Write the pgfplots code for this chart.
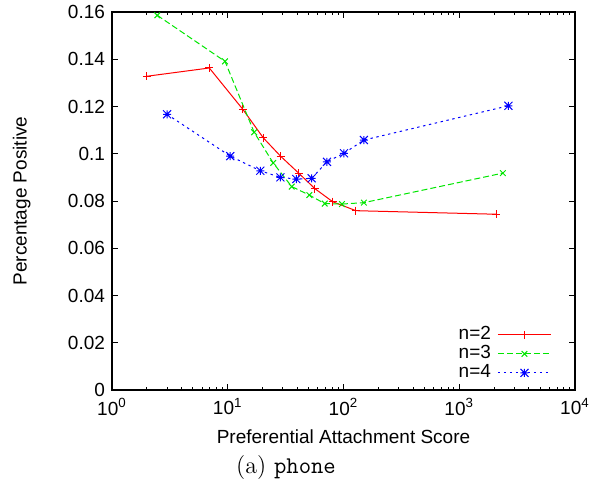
\documentclass[border=0pt]{standalone}
\usepackage{fontspec}
\usepackage{pgfplots}
\pgfplotsset{compat=1.18}
\newfontfamily\helv{Liberation Sans}

% gnuplot style "*" = plus and cross together
\pgfdeclareplotmark{gpstar}{%
  \pgfpathmoveto{\pgfqpoint{-\pgfplotmarksize}{0pt}}%
  \pgfpathlineto{\pgfqpoint{\pgfplotmarksize}{0pt}}%
  \pgfpathmoveto{\pgfqpoint{0pt}{-\pgfplotmarksize}}%
  \pgfpathlineto{\pgfqpoint{0pt}{\pgfplotmarksize}}%
  \pgfpathmoveto{\pgfqpoint{-\pgfplotmarksize}{-\pgfplotmarksize}}%
  \pgfpathlineto{\pgfqpoint{\pgfplotmarksize}{\pgfplotmarksize}}%
  \pgfpathmoveto{\pgfqpoint{-\pgfplotmarksize}{\pgfplotmarksize}}%
  \pgfpathlineto{\pgfqpoint{\pgfplotmarksize}{-\pgfplotmarksize}}%
  \pgfusepathqstroke}

\definecolor{gpred}{RGB}{255,0,0}
\definecolor{gpgreen}{RGB}{0,230,0}
\definecolor{gpblue}{RGB}{0,0,255}

\begin{document}
\begin{tikzpicture}
\path[use as bounding box] (-56pt,-48.5pt) rectangle (245.5pt,195pt);
\begin{axis}[
    at={(0,0)}, anchor=south west,
    scale only axis, width=231.5pt, height=189pt,
    font=\helv\fontsize{9.5}{11.5}\selectfont,
    xmode=log, log basis x=10,
    xmin=1, xmax=10000, ymin=0, ymax=0.16,
    xtick={1,10,100,1000,10000},
    xticklabels={10\textsuperscript{0},10\textsuperscript{1},10\textsuperscript{2},10\textsuperscript{3},10\textsuperscript{4}},
    minor xtick={2,3,4,5,6,7,8,9,20,30,40,50,60,70,80,90,200,300,400,500,600,700,800,900,2000,3000,4000,5000,6000,7000,8000,9000},
    ytick={0,0.02,0.04,0.06,0.08,0.1,0.12,0.14,0.16},
    scaled y ticks=false,
    yticklabel style={/pgf/number format/fixed, /pgf/number format/precision=2,
        /pgf/number format/assume math mode=true},
    xticklabel style={yshift=-0.5pt},
    tick align=inside,
    major tick length=3pt, minor tick length=1.5pt,
    tick style={black, line width=0.5pt},
    axis line style={line width=0.6pt},
    xlabel={Preferential Attachment Score},
    ylabel={Percentage Positive},
    xlabel style={at={(axis description cs:0.5,-0.124)}, anchor=center},
    ylabel style={at={(axis description cs:-0.195,0.5)}, anchor=center},
    legend plot pos=right,
    legend cell align=right,
    legend style={draw=none, fill=none, at={(rel axis cs:0.95,0.172)}, anchor=north east,
        inner sep=0pt, column sep=3pt, row sep=0pt,
        nodes={text height=7pt, text depth=2pt, inner sep=0.25pt}},
    legend image code/.code={\draw[mark repeat=2,mark phase=2] plot coordinates {(0pt,0pt)(13.25pt,0pt)(26.5pt,0pt)};},
]
\addplot[gpred, line width=0.5pt, mark=+, mark size=2pt, mark options={solid}] coordinates {
    (2,0.1328)(6.93,0.1363)(13.5,0.1188)(20.3,0.1067)(28.7,0.0989)(41,0.0918)
    (56.7,0.0852)(80.6,0.0797)(128,0.0759)(2083,0.0744)
};
\addplot[gpgreen, line width=0.5pt, dash pattern=on 3pt off 1.5pt, mark=x, mark size=2pt, mark options={solid}] coordinates {
    (2.46,0.1586)(9.47,0.1391)(16.9,0.1091)(24.7,0.0961)(35.7,0.0861)(50.7,0.0825)
    (68.8,0.0789)(97,0.0787)(150,0.0793)(2380,0.0918)
};
\addplot[gpblue, line width=0.5pt, dash pattern=on 1.2pt off 1.8pt, mark=gpstar, mark size=2pt, mark options={solid}] coordinates {
    (2.99,0.1167)(10.5,0.0990)(19.1,0.0928)(28.5,0.0900)(39.1,0.0893)(53.1,0.0896)
    (72,0.0966)(101,0.1002)(150,0.1058)(2660,0.1203)
};
\legend{n=2, n=3, n=4}
\end{axis}
\node[anchor=center] at (87pt,-39pt) {\fontsize{12}{14}\selectfont (a) \texttt{phone}};
\end{tikzpicture}
\end{document}
